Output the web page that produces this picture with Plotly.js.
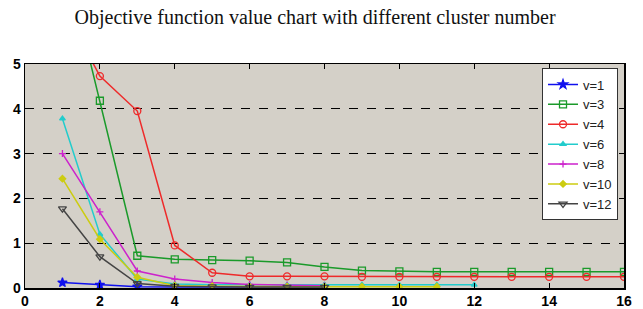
<!DOCTYPE html>
<html><head><meta charset="utf-8">
<script src="https://cdn.plot.ly/plotly-3.0.1.min.js"></script>
<style>html,body{margin:0;padding:0;background:#fff;}</style>
</head><body>
<div id="chart" style="width:643px;height:309px;"></div>
<script>
const seriesNames = ["v=1","v=3","v=4","v=6","v=8","v=10","v=12"];
const x_v1 = [1,2,3,4,5,6,7,8];
const y_v1 = [0.12,0.07,0.03,0.02,0.02,0.02,0.02,0.02];
const x_v3 = [1,2,3,4,5,6,7,8,9,10,11,12,13,14,15,16];
const y_v3 = [7.6,4.18,0.72,0.64,0.62,0.61,0.57,0.47,0.39,0.37,0.36,0.36,0.36,0.36,0.36,0.36];
const x_v4 = [1,2,3,4,5,6,7,8,9,10,11,12,13,14,15,16];
const y_v4 = [6.3,4.73,3.95,0.95,0.34,0.26,0.26,0.26,0.25,0.25,0.25,0.25,0.25,0.25,0.25,0.25];
const x_v6 = [1,2,3,4,5,6,7,8,9,10,11,12];
const y_v6 = [3.78,1.2,0.2,0.09,0.07,0.07,0.07,0.07,0.07,0.07,0.07,0.07];
const x_v8 = [1,2,3,4,5,6,7,8];
const y_v8 = [3.0,1.7,0.38,0.2,0.12,0.08,0.06,0.05];
const x_v10 = [1,2,3,4,5,6,7,8,9,10,11];
const y_v10 = [2.44,1.09,0.24,0.05,0.04,0.03,0.03,0.03,0.03,0.03,0.03];
const x_v12 = [1,2,3,4,5,6,7,8];
const y_v12 = [1.77,0.70,0.1,0.04,0.03,0.02,0.02,0.02];
const xTickVals = [0,2,4,6,8,10,12,14,16];
const yTickVals = [0,1,2,3,4,5];

const styles = [
  {c:"#1010ee", s:"star", sz:7},
  {c:"#1a9a2a", s:"square-open", sz:7},
  {c:"#ee2a2a", s:"circle-open", sz:7},
  {c:"#22cccc", s:"triangle-up", sz:5},
  {c:"#cc22cc", s:"cross-thin-open", sz:5},
  {c:"#cccc11", s:"diamond", sz:5},
  {c:"#444444", s:"triangle-down-open", sz:7}
];
const xs = [x_v1,x_v3,x_v4,x_v6,x_v8,x_v10,x_v12];
const ys = [y_v1,y_v3,y_v4,y_v6,y_v8,y_v10,y_v12];
const traces = seriesNames.map((n,i)=>({
  x: xs[i], y: ys[i], name: n, type:"scatter", mode:"lines+markers",
  line:{color:styles[i].c, width:1.5},
  marker:{symbol:styles[i].s, size:styles[i].sz, color:styles[i].c, line:{color:styles[i].c, width:1.3}},
  cliponaxis:true
}));
const layout = {
  width:643, height:309,
  margin:{l:25, r:19, t:64, b:21},
  paper_bgcolor:"#ffffff",
  plot_bgcolor:"#d4d0c8",
  title:{text:"Objective function value chart with different cluster number",
         font:{family:"Liberation Serif, Times New Roman, serif", size:20, color:"#111"},
         x:0.49, xanchor:"center", y:0.945, yanchor:"middle"},
  xaxis:{range:[0,16], tickvals:xTickVals, ticks:"inside", ticklen:5, tickcolor:"#000",
         showgrid:false, zeroline:false, showline:true, linecolor:"#000", linewidth:1.5, mirror:"ticks",
         tickfont:{family:"Liberation Sans, Arial, sans-serif", size:14, color:"#000", weight:"bold"}},
  yaxis:{range:[0,5], tickvals:yTickVals, ticks:"inside", ticklen:5, tickcolor:"#000",
         showgrid:true, gridcolor:"#000", griddash:"dash", gridwidth:1, zeroline:false,
         showline:true, linecolor:"#000", linewidth:1.5, mirror:"ticks",
         tickfont:{family:"Liberation Sans, Arial, sans-serif", size:14, color:"#000", weight:"bold"}},
  showlegend:true,
  legend:{x:0.99, xanchor:"right", y:0.98, yanchor:"top", bgcolor:"#ffffff",
          bordercolor:"#333", borderwidth:1,
          font:{family:"Liberation Sans, Arial, sans-serif", size:13, color:"#222"},
          itemwidth:30}
};
Plotly.newPlot("chart", traces, layout, {displayModeBar:false, staticPlot:true});
</script>
</body></html>
